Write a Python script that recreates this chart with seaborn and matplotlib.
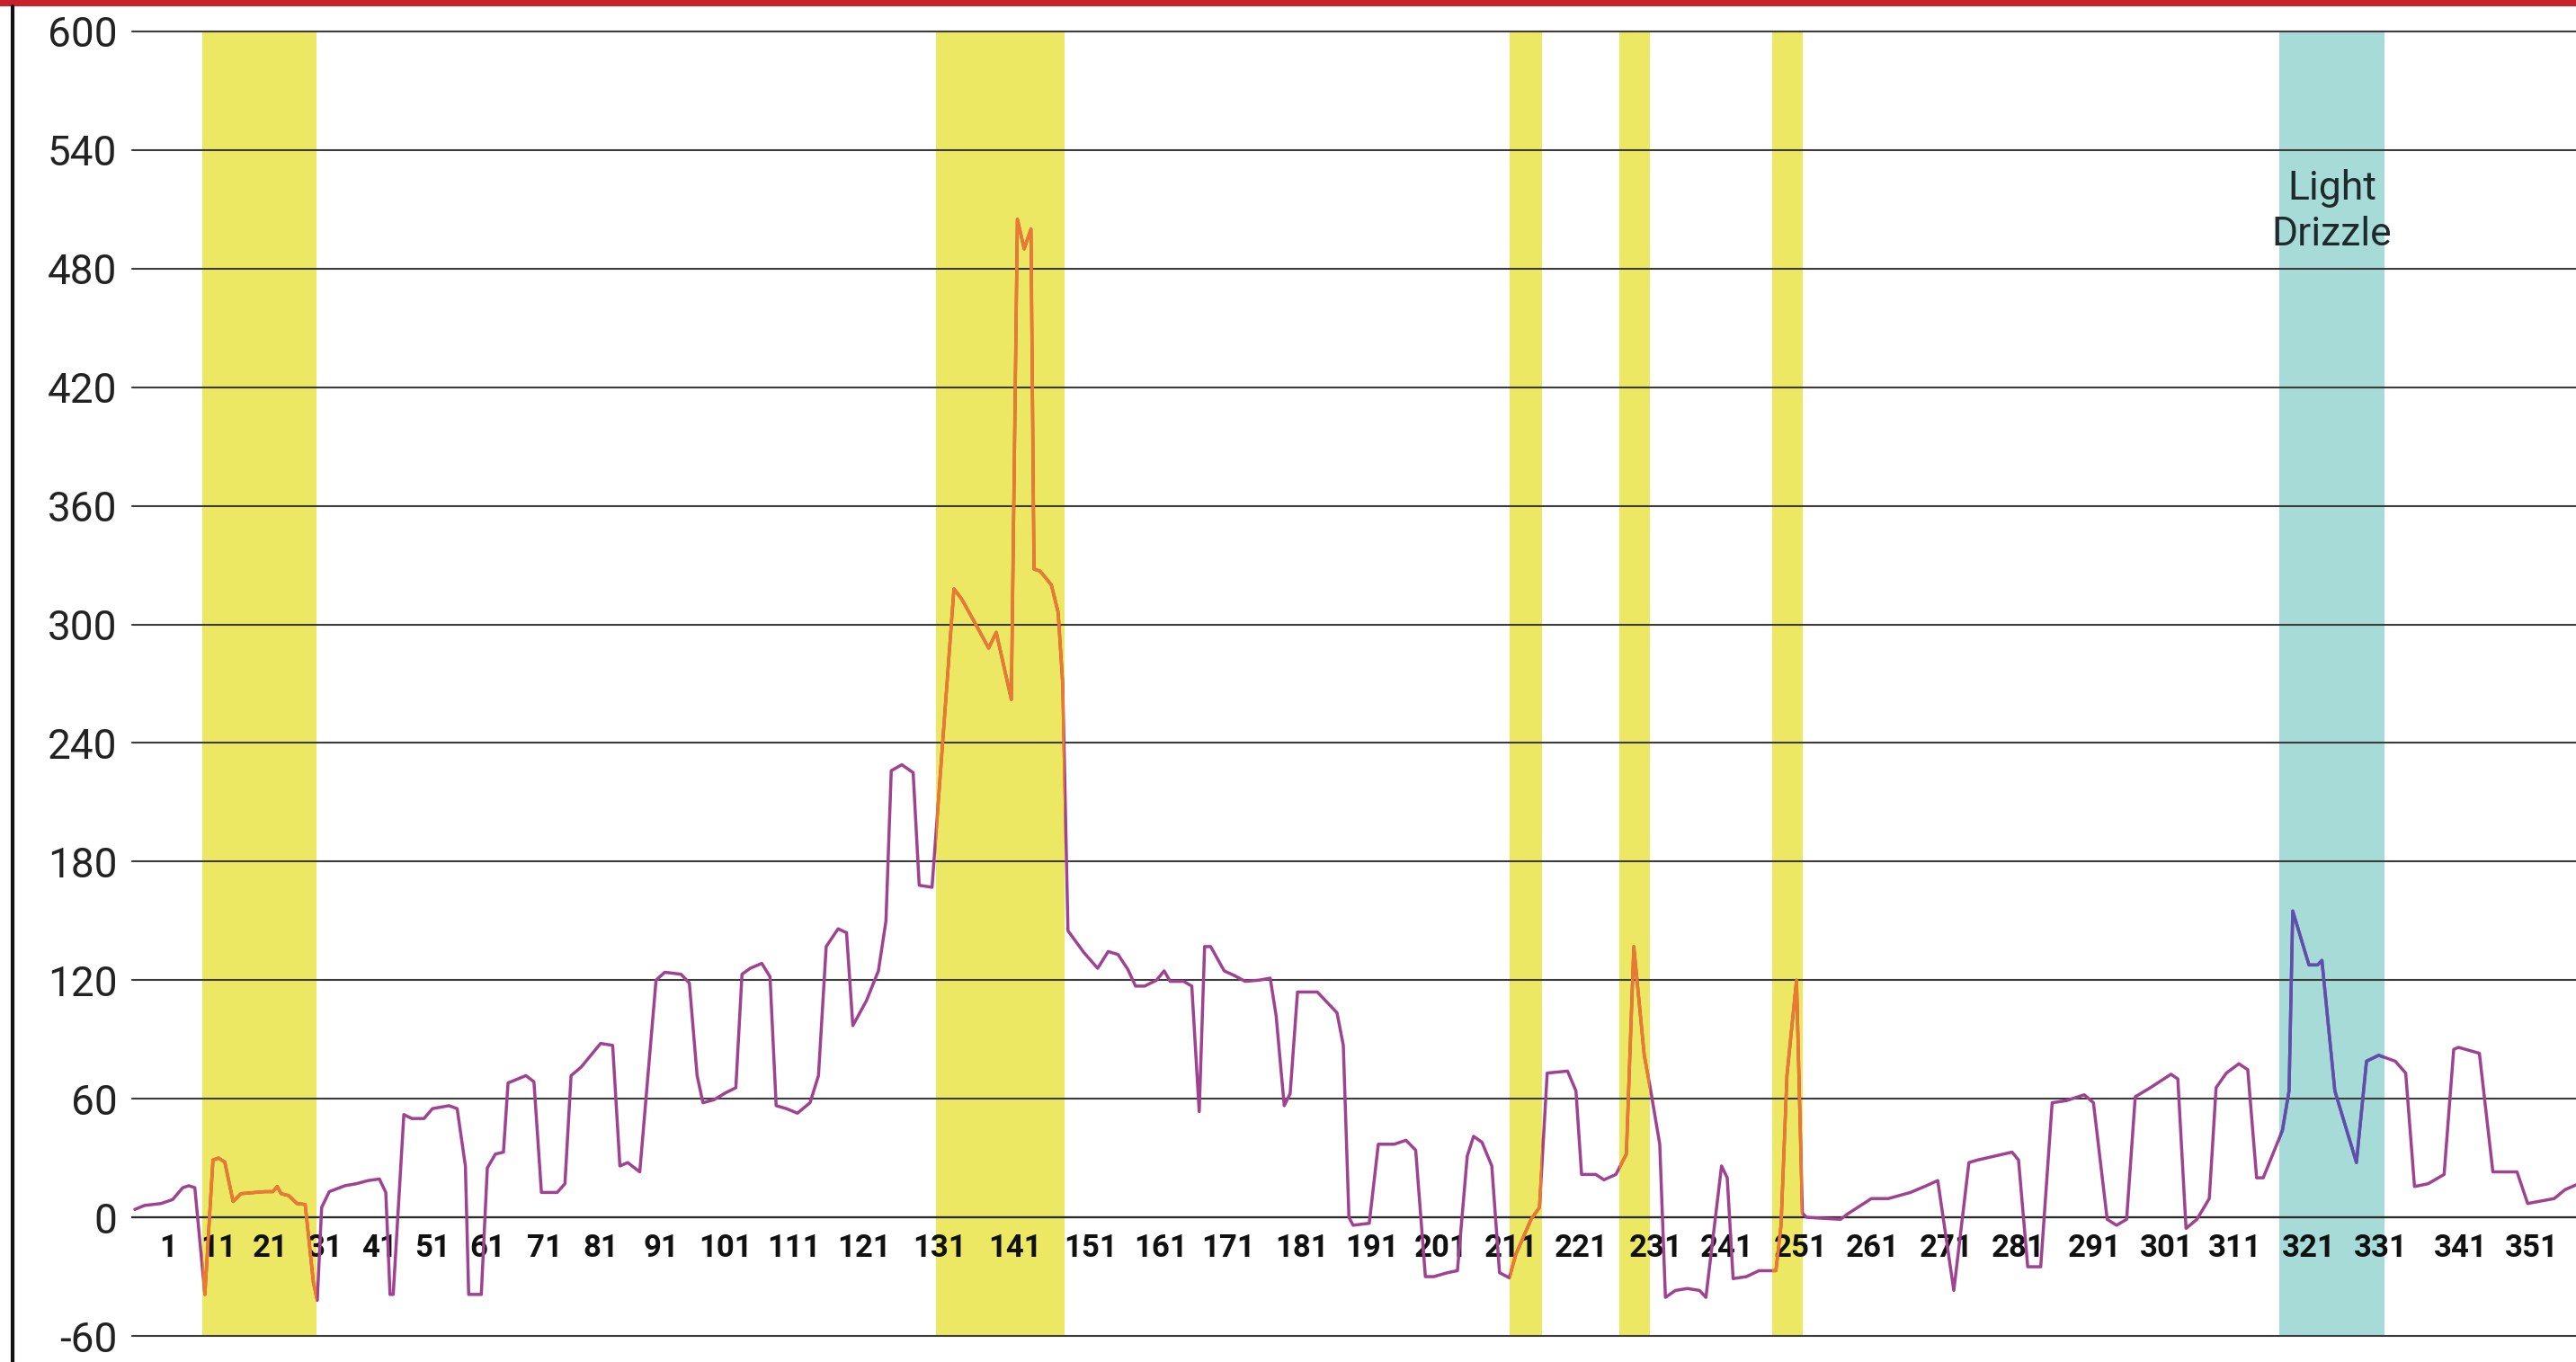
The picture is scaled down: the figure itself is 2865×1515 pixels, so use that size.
import numpy as np
import pandas as pd
import matplotlib
matplotlib.use("Agg")
import matplotlib.pyplot as plt
from matplotlib.patches import Rectangle
from matplotlib.lines import Line2D
import seaborn as sns

# readings of the traced line (sample index, value)
sample_idx = [
    -5.6, -3.7, -0.4, 1.9, 3.9, 5.1, 6.3, 8.3, 9.9, 11, 12.2, 13.8, 15.3, 17.5, 19.9,
    21.4, 22.2, 22.9, 24.3, 25.8, 27.3, 28.8, 29.5, 30.3, 31.7, 34.6, 36.7, 38.9, 41,
    42.2, 43, 43.6, 45.6, 47.1, 49.4, 51, 54, 55.5, 57, 57.6, 59.9, 61, 62.4, 63.8,
    64.6, 67.7, 69.1, 70.4, 73.2, 74.6, 75.7, 77.5, 81, 83, 84.2, 85.5, 87.5, 90.2,
    91.6, 94.1, 95.4, 96.6, 97.5, 99.2, 101, 102.5, 103.4, 104.6, 106.3, 107.5, 108.4,
    109.9, 111.5, 113.3, 114.5, 115.6, 117.3, 118.5, 119.4, 121.3, 122.9, 123.9, 124.6,
    126, 127.5, 128.3, 130, 132.9, 133.9, 135.5, 137.5, 138.5, 140.5, 141.3, 142.2,
    143.1, 143.5, 144.3, 145.8, 146.7, 147.3, 148.0, 150.1, 152, 153.5, 154.9, 156.3,
    157.4, 158.7, 160.4, 161.5, 162.4, 164.4, 165.6, 166.7, 167.5, 168.4, 170.4, 171.8,
    173.3, 175.2, 176.7, 177.5, 178.6, 179.4, 180.4, 183.2, 186, 186.9, 187.7, 188.3,
    190.6, 191.9, 194.2, 195.9, 197.3, 198.7, 199.9, 201.9, 203.3, 204.7, 205.6, 206.8,
    208.2, 209.3, 210.7, 211.6, 213.8, 215, 216.1, 219, 220.2, 221, 222.9, 224, 225.6,
    227, 228, 229.4, 230.2, 231.5, 232.3, 233.7, 235.4, 237.1, 238, 240.2, 241, 241.8,
    243.6, 245.3, 247.6, 248.3, 249.1, 250.4, 251.2, 251.8, 256.5, 257.6, 260.8, 263.1,
    266.1, 268, 269.8, 272, 274.1, 275.3, 278.3, 280.1, 281, 282.2, 283.9, 285.4, 287.2,
    289.6, 290.8, 292.7, 294, 295.4, 296.6, 298.7, 301.6, 302.6, 303.8, 305.4, 307.2,
    308.2, 309.7, 311.5, 312.7, 313.9, 314.8, 317.4, 318.3, 318.8, 321, 322.2, 322.8,
    324.6, 327.6, 329, 330.7, 332.8, 334.1, 335.2, 336.9, 338.9, 340.1, 340.7, 343.6,
    345.5, 348.9, 350.4, 354.1, 355.6, 357.5,
]
signal_values = [
    4, 6, 7, 9, 15, 16, 15, -39, 29, 30, 28, 8, 12, 12.5, 13,
    13, 15.6, 12, 11, 7, 6.5, -33, -42, 5, 13, 16, 17, 18.6, 19.4,
    12.6, -39, -39, 52, 50, 50, 55, 56.5, 55, 26, -39, -39, 25, 32, 33,
    68, 71.7, 68.6, 12.6, 12.6, 17, 71.7, 76, 88, 87, 26, 27.7, 23, 120,
    124, 123, 118.6, 71.7, 58, 59.5, 63, 65.6, 123, 126, 128.5, 121.7, 56.5,
    55, 52.7, 58, 71.7, 137, 146, 144, 97, 109.5, 124.7, 150, 226,
    229, 225, 168, 167, 318, 313, 302, 288, 296, 262, 505, 490,
    500, 328, 327, 320, 306, 270, 145, 134, 126, 134.5, 133, 125.5,
    117, 117, 120, 124.7, 119.4, 119.4, 117, 53.5, 137, 137, 124.7, 122.4,
    119.4, 120, 121, 102, 56.5, 62.6, 114, 114, 103.5, 87, 0, -4,
    -3, 37, 37, 39, 34, -30, -30, -28, -27, 31, 41, 38,
    26, -28, -30.6, -19, -1, 5, 73, 74, 64, 21.7, 21.7, 19, 21.7,
    32, 137, 82, 65.6, 37, -40.5, -37, -36, -37, -40.5, 26, 20, -31,
    -30, -27, -27, -4, 71.7, 120, 2, 0, -1, 2, 9.5, 9.5,
    12.6, 15.6, 18.6, -37, 27.7, 29, 31.5, 33, 29, -25, -25, 58, 59,
    62, 58, -1, -4, -1, 61, 65.6, 72.4, 70, -5.6, -1, 9.5,
    65.6, 73, 77.7, 74.7, 20, 20, 44, 64, 155, 127.7, 127.7, 130,
    64, 27.7, 79, 82, 79, 73, 15.6, 17, 21.7, 85, 86, 83,
    23, 23, 7, 9.5, 14, 17,
]

yellow_bands = [(7.8, 29.3), (130.5, 147.6), (210.8, 215.4), (226.0, 230.1), (247.1, 251.2)]
drizzle_band = (317.0, 331.5)
drizzle_label = "Light\nDrizzle"

x_tick_values = list(range(1, 352, 10))
y_tick_values = list(range(-60, 601, 60))

# the scanned chart is squeezed on its left side, so the x axis follows
# where each tick label actually sits (pixel columns of the 2865 px image)
warp_idx = [-20] + x_tick_values + [370]
warp_px = [69, 187, 243, 301, 362, 422, 481, 542, 606, 668, 735, 807, 883, 961, 1045,
           1129, 1213, 1291, 1366, 1448, 1526, 1603, 1681, 1759, 1842, 1921, 2003,
           2083, 2165, 2245, 2330, 2410, 2486, 2568, 2648, 2737, 2816, 2968]

NARROW = ["DejaVu Sans Condensed", "Roboto", "DejaVu Sans"]


def fwd(x):
    return np.interp(x, warp_idx, warp_px)


def inv(p):
    return np.interp(p, warp_px, warp_idx)


def main():
    sns.set_theme(style="white")
    plt.rcParams["font.family"] = NARROW

    W, H = 2865, 1515
    fig = plt.figure(figsize=(W / 100, H / 100), dpi=100)
    fig.patch.set_facecolor("white")
    ax = fig.add_axes([147 / W, 29 / H, (W - 147) / W, (1486 - 35) / H])
    ax.set_xscale("function", functions=(fwd, inv))
    ax.set_xlim(float(inv(147.0)), float(inv(2865.0)))
    ax.set_ylim(-60, 600)

    for lo, hi in yellow_bands:
        ax.axvspan(lo, hi, color="#ede864", lw=0, zorder=0.5)
    ax.axvspan(*drizzle_band, color="#a6dbd8", lw=0, zorder=0.5)

    df = pd.DataFrame({"idx": sample_idx, "value": signal_values})
    sns.lineplot(data=df, x="idx", y="value", ax=ax, color="#9e4291", lw=2.5,
                 sort=False, estimator=None, zorder=3)

    # the trace changes tint where it crosses the shaded bands
    band_cols = ["#ec7a2c"] * len(yellow_bands) + ["#5d4fae"]
    for (lo, hi), col in zip(yellow_bands + [drizzle_band], band_cols):
        ln, = ax.plot(df["idx"], df["value"], color=col, lw=2.5, zorder=4)
        ln.set_clip_path(Rectangle((lo, -60), hi - lo, 660, transform=ax.transData))

    ax.text(324.2, 509, drizzle_label, ha="center", va="center", fontsize=32,
            color="#1e2a2e", zorder=5, linespacing=1.25)

    ax.set_axisbelow("line")
    ax.yaxis.grid(True, color="#3c3c3c", lw=1.5)
    ax.xaxis.grid(False)
    for s in ["top", "right", "left"]:
        ax.spines[s].set_visible(False)
    ax.spines["bottom"].set_position(("data", 0))
    ax.spines["bottom"].set_color("#2a2a2a")
    ax.spines["bottom"].set_linewidth(1.6)

    ax.set_xticks(x_tick_values, labels=[str(v) for v in x_tick_values])
    ax.set_xticks([v for v in range(-4, 358, 5) if (v - 1) % 10], minor=True)
    ax.tick_params(axis="x", which="both", direction="in", length=7, width=1.3,
                   color="#333333", pad=13)
    ax.tick_params(axis="x", which="major", labelsize=25, labelcolor="#111111")
    for lbl in ax.get_xticklabels():
        lbl.set_fontweight("bold")

    ax.set_yticks(y_tick_values, labels=[str(v) for v in y_tick_values])
    ax.tick_params(axis="y", length=0, pad=12, labelsize=33, labelcolor="#222222")
    for lbl in ax.get_yticklabels():
        lbl.set_family(["Roboto", "DejaVu Sans"])
    for gl in ax.get_ygridlines():
        gl.set_clip_on(False)
    ax.set_xlabel("")
    ax.set_ylabel("")

    # page frame: red rule on top, black rule on the left
    fig.add_artist(Rectangle((0, 1 - 7 / H), 1, 7 / H, transform=fig.transFigure,
                             color="#c9202b", lw=0))
    fig.add_artist(Line2D([14 / W, 14 / W], [0, 1 - 7 / H], transform=fig.transFigure,
                          color="#111111", lw=3))

    fig.savefig("out.png", dpi=100)
    plt.close(fig)


if __name__ == "__main__":
    main()
